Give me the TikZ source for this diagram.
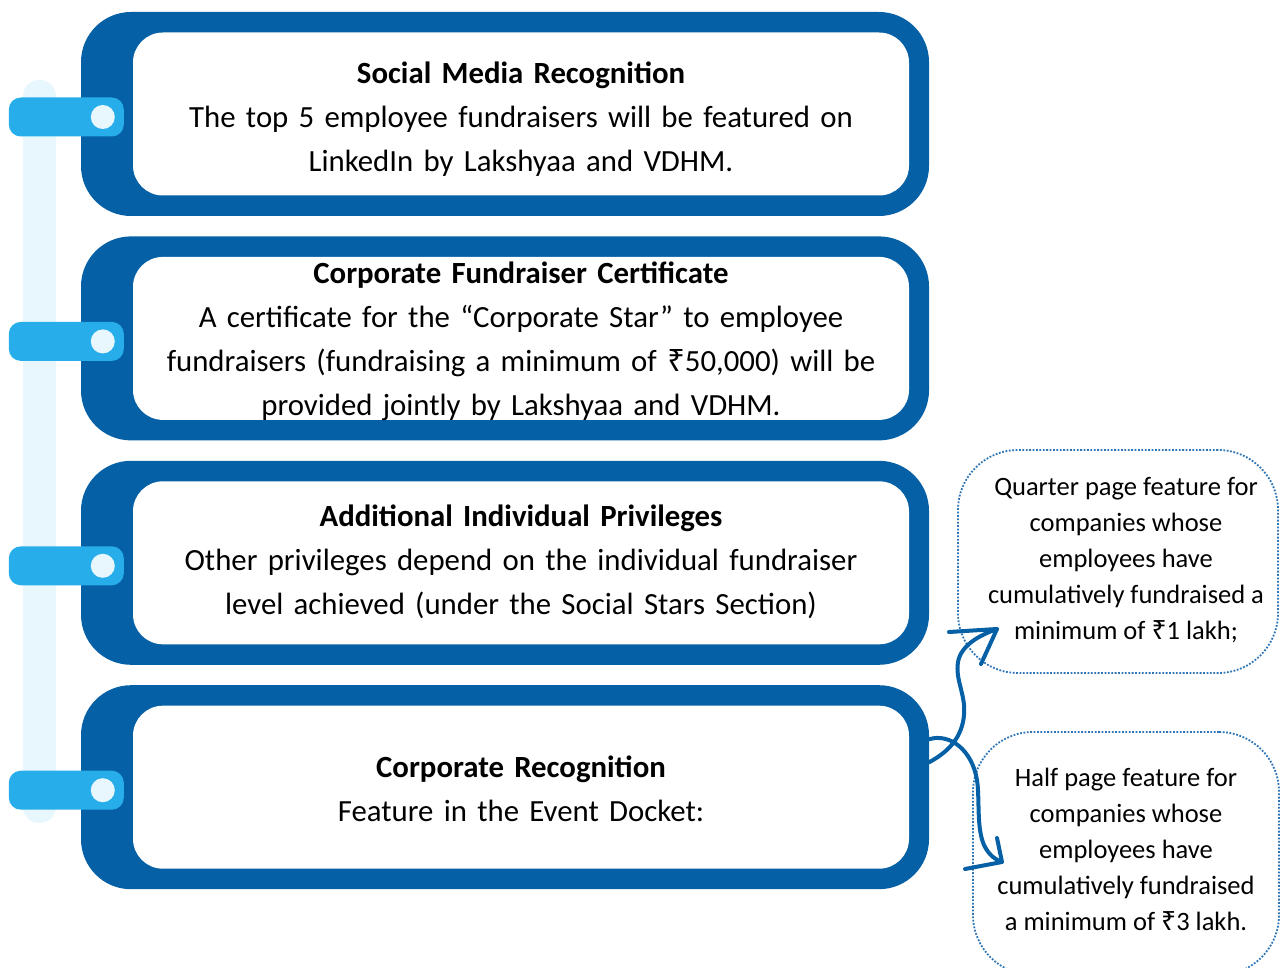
\documentclass[tikz,border=0pt]{standalone}
\usepackage{fontspec}
\setmainfont{Carlito}
\newfontfamily\rupeefont{Noto Sans}
\usepackage{xcolor}
\usetikzlibrary{positioning}

\definecolor{navy}{HTML}{0560A6}
\definecolor{sky}{HTML}{27AEEA}
\definecolor{mist}{HTML}{E8F7FE}
\definecolor{dotblue}{HTML}{2E75B6}
\newcommand{\inr}{{\rupeefont ₹}}

\begin{document}
\begin{tikzpicture}[
x=1pt, y=-1pt,
node distance = 20pt,
frame/.style = {fill=navy, rounded corners=50pt, inner sep=0pt,
                minimum width=848pt, minimum height=204pt},
card/.style = {fill=white, rounded corners=30pt, inner sep=0pt,
               minimum width=776pt, minimum height=163pt},
caption/.style = {inner sep=0pt, text width=770pt, align=center,
                  font=\fontsize{30.8}{44}\selectfont},
tab/.style = {fill=sky, rounded corners=12pt, inner sep=0pt,
              minimum width=115pt, minimum height=39pt},
knob/.style = {circle, fill=mist, inner sep=0pt, minimum size=24pt},
bubble/.style = {draw=dotblue, line width=1.8pt, dash pattern=on 1.8pt off 1.6pt,
                 rounded corners=60pt},
note/.style = {inner sep=0pt, align=center,
               font=\fontsize{26.5}{36}\selectfont},
swoosh/.style = {draw=navy, line width=4pt, line cap=round, line join=round},
                        ]
\clip (0,0) rectangle (1280,968);
\fill[mist, rounded corners=16pt] (23,80) rectangle (56,823);

\node (o1) [frame] at (505,114) {};
\node (c1) [card, left=20pt of o1.east] {};
\node (l1) [caption] at ([yshift=-5pt]c1.center) {\textbf{Social Media Recognition}\\
  The top 5 employee fundraisers will be featured on\\
  LinkedIn by Lakshyaa and VDHM.};
\node (o2) [frame, below=of o1] {};
\node (c2) [card, left=20pt of o2.east] {};
\node (l2) [caption] at ([yshift=-2.5pt]c2.center) {\textbf{Corporate Fundraiser Certificate}\\
  A certificate for the “Corporate Star” to employee\\
  fundraisers (fundraising a minimum of \inr50,000) will be\\
  provided jointly by Lakshyaa and VDHM.};
\node (o3) [frame, below=of o2] {};
\node (c3) [card, left=20pt of o3.east] {};
\node (l3) [caption] at ([yshift=1pt]c3.center) {\textbf{Additional Individual Privileges}\\
  Other privileges depend on the individual fundraiser\\
  level achieved (under the Social Stars Section)};
\node (o4) [frame, below=of o3] {};
\node (c4) [card, left=20pt of o4.east] {};
\node (l4) [caption] at ([yshift=-2pt]c4.center) {\textbf{Corporate Recognition}\\
  Feature in the Event Docket:};

\foreach \i in {1,...,4} {
  \node (t\i) [tab] at ([xshift=-14.5pt, yshift=-3pt]o\i.west) {};
  \node (k\i) [knob, left=9pt of t\i.east] {};
}

\node (b1) [bubble, minimum width=320pt, minimum height=223pt] at (1118,561.5) {};
\node (q1) [note] at ([xshift=8pt, yshift=1pt]b1.center)
  {Quarter page feature for\\companies whose\\employees have\\
   cumulatively fundraised a\\minimum of \inr1 lakh;};
\node (b2) [bubble, minimum width=306pt, minimum height=243pt] at (1126,853.5) {};
\node (q2) [note] at ([yshift=4pt]b2.center)
  {Half page feature for\\companies whose\\employees have\\
   cumulatively fundraised\\a minimum of \inr3 lakh.};

\coordinate (tipA) at (997,629);
\coordinate (tipB) at (1002,862);
\draw[swoosh] ([yshift=25pt]o4.east) .. controls (948,752) and (962,738) .. (964,715)
  .. controls (966,695) and (955,680) .. (958,662)
  .. controls (961,645) and (980,635) .. (tipA)
  ++(-48,3) -- (tipA) -- ++(-16,35);
\draw[swoosh] ([yshift=48pt]o4.east) .. controls (950,733) and (972,750) .. (977,780)
  .. controls (980,800) and (976,830) .. (985,847)
  .. controls (990,856) and (996,860) .. (tipB)
  ++(-37,7) -- (tipB) -- ++(-5,-24);
\end{tikzpicture}
\end{document}
